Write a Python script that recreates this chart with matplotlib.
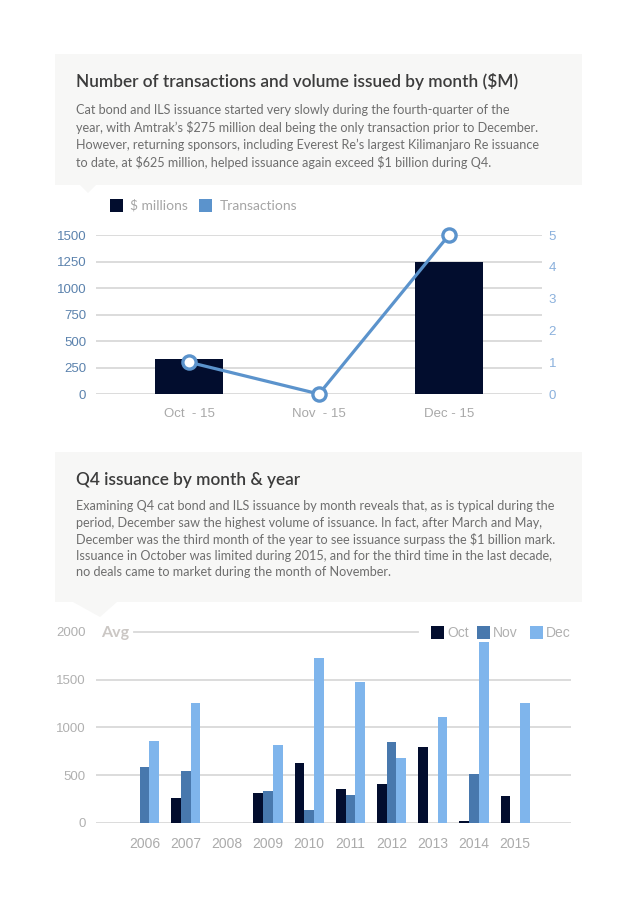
import numpy as np
import matplotlib
matplotlib.use('Agg')
import matplotlib.pyplot as plt
from matplotlib.patches import Rectangle, Polygon

plt.rcParams['text.parse_math'] = False

# chart 1 data
months = ["Oct  - 15", "Nov  - 15", "Dec - 15"]
volume = [330, 0, 1250]
transactions = [1, 0, 5]

# chart 2 data
years = ["2006", "2007", "2008", "2009", "2010", "2011", "2012", "2013", "2014", "2015"]
oct_vals = [0, 256, 0, 309, 628, 354, 407, 789, 18, 277]
nov_vals = [589, 540, 0, 333, 130, 288, 846, 0, 512, 0]
dec_vals = [856, 1253, 0, 811, 1730, 1474, 674, 1109, 1895, 1260]

title1 = "Number of transactions and volume issued by month ($M)"
body1 = ["Cat bond and ILS issuance started very slowly during the fourth-quarter of the",
         "year, with Amtrak\u2019s $275 million deal being the only transaction prior to December.",
         "However, returning sponsors, including Everest Re\u2019s largest Kilimanjaro Re issuance",
         "to date, at $625 million, helped issuance again exceed $1 billion during Q4."]
title2 = "Q4 issuance by month & year"
body2 = ["Examining Q4 cat bond and ILS issuance by month reveals that, as is typical during the",
         "period, December saw the highest volume of issuance. In fact, after March and May,",
         "December was the third month of the year to see issuance surpass the $1 billion mark.",
         "Issuance in October was limited during 2015, and for the third time in the last decade,",
         "no deals came to market during the month of November."]

navy = "#020d2e"
line_blue = "#5b93cc"
nov_c = "#4878ad"
dec_c = "#7fb5ec"
grid_c = "#d9d9d9"
W, H = 636, 900
TXT = "Lato"
NUM = "Liberation Sans"

fig = plt.figure(figsize=(6.36, 9), dpi=100)
fig.patch.set_facecolor("white")

def frac(l, t, r, b):
    return [l / W, 1 - b / H, (r - l) / W, (b - t) / H]

# background layer in pixel coordinates
bg = fig.add_axes([0, 0, 1, 1], zorder=-10)
bg.set_xlim(0, W)
bg.set_ylim(H, 0)
bg.axis("off")
box_c = "#f7f7f6"
bg.add_patch(Rectangle((55, 54), 527, 131, color=box_c, lw=0))
bg.add_patch(Polygon([(80, 185), (96, 185), (88, 193)], color=box_c, lw=0))
bg.add_patch(Rectangle((55, 452), 527, 150, color=box_c, lw=0))
bg.add_patch(Polygon([(73, 602), (117, 602), (100, 617)], color=box_c, lw=0))

bg.text(76, 81, title1, fontsize=12.4, family=TXT, weight="semibold", color="#3c3c3c", va="center")
for i, s in enumerate(body1):
    bg.text(76, 110 + i * 17.5, s, fontsize=9.1, family=TXT, color="#6e6e6e", va="center")
bg.text(76, 480, title2, fontsize=12.4, family=TXT, weight="semibold", color="#3c3c3c", va="center")
for i, s in enumerate(body2):
    bg.text(76, 506 + i * 16.6, s, fontsize=9.1, family=TXT, color="#6e6e6e", va="center")

# legend chart 1
bg.add_patch(Rectangle((110, 199), 13, 13, color=navy, lw=0))
bg.text(130, 205.5, "$ millions", fontsize=10, family=TXT, color="#a5a5a5", va="center")
bg.add_patch(Rectangle((199, 199), 13, 13, color=line_blue, lw=0))
bg.text(220, 205.5, "Transactions", fontsize=10, family=TXT, color="#a5a5a5", va="center")

# legend chart 2 and Avg label
bg.text(101, 633, "Avg", fontsize=11.5, family=TXT, weight="bold", color="#cbc7c4", va="center")
for xx, lab, c in [(431, "Oct", navy), (477, "Nov", nov_c), (530, "Dec", dec_c)]:
    bg.add_patch(Rectangle((xx, 626), 13, 13, color=c, lw=0))
    bg.text(xx + 16, 633, lab, fontsize=10, family=NUM, color="#b0b0b0", va="center")

# ---- chart 1 ----
ax = fig.add_axes(frac(96, 235, 541.7, 394))
ax.patch.set_visible(False)
x = np.arange(len(months))
ax.bar(x, volume, width=0.523, color=navy, zorder=2)
ax.set_xlim(-0.715, 2.713)
ax.set_ylim(0, 1500)
ax.set_yticks(np.arange(0, 1501, 250))
ax.grid(axis="y", color=grid_c, lw=1.3, zorder=0)
ax.set_axisbelow(True)
for sp in ax.spines.values():
    sp.set_visible(False)
ax.set_xticks(x)
ax.set_xticklabels(months)
ax.tick_params(axis="x", length=0, pad=10, labelsize=9.5, labelcolor="#a8a8a8")
ax.tick_params(axis="y", length=0, pad=7, labelsize=9.5, labelcolor="#5b82ad")
for lab in ax.get_xticklabels() + ax.get_yticklabels():
    lab.set_family(NUM)

ax2 = ax.twinx()
ax2.patch.set_visible(False)
ax2.plot(x, transactions, color=line_blue, lw=2.3, marker="o", ms=9.5,
         mfc="white", mec=line_blue, mew=2.4, clip_on=False, zorder=3)
ax2.set_ylim(0, 5)
ax2.set_yticks(range(6))
for sp in ax2.spines.values():
    sp.set_visible(False)
ax2.tick_params(axis="y", length=0, pad=5, labelsize=9.5, labelcolor="#8ab0dc")
for lab in ax2.get_yticklabels():
    lab.set_family(NUM)

# ---- chart 2 ----
bx = fig.add_axes(frac(95.7, 632, 570.7, 822.7))
bx.patch.set_visible(False)
xs = np.arange(len(years))
bw = 0.236
bx.bar(xs - bw, oct_vals, width=bw, color=navy, zorder=2)
bx.bar(xs, nov_vals, width=bw, color=nov_c, zorder=2)
bx.bar(xs + bw, dec_vals, width=bw, color=dec_c, zorder=2)
bx.set_xlim(-1.185, 10.35)
bx.set_ylim(0, 2000)
yt = [0, 500, 1000, 1500, 2000]
bx.set_yticks(yt)
for v in yt[:-1]:
    bx.axhline(v, color=grid_c, lw=1.3, zorder=0)
bx.axhline(2000, xmin=0.081, xmax=0.679, color=grid_c, lw=1.3, zorder=0, clip_on=False)
for sp in bx.spines.values():
    sp.set_visible(False)
bx.set_xticks(xs)
bx.set_xticklabels(years)
bx.tick_params(axis="x", length=0, pad=10, labelsize=10, labelcolor="#ababab")
bx.tick_params(axis="y", length=0, pad=7, labelsize=9.5, labelcolor="#b0b0b0")
for lab in bx.get_xticklabels() + bx.get_yticklabels():
    lab.set_family(NUM)

fig.savefig("out.png", dpi=100)
